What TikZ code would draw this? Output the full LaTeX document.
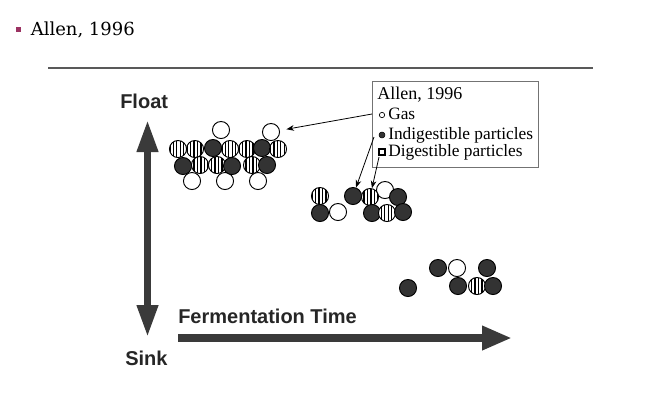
\documentclass[tikz,border=0pt]{standalone}
\usepackage{fontspec}
\setmainfont{Liberation Serif}
\newfontfamily\slabfont{DejaVu Serif}
\newfontfamily\axisfont{Liberation Sans}
\usetikzlibrary{arrows.meta,patterns.meta}
\tikzset {>=Stealth}
\definecolor{bulletred}{HTML}{9B3262}
\definecolor{arrowgray}{HTML}{3A3A3A}
\tikzset{
  gas/.style={circle,draw,line width=0.7pt,fill=white,minimum size=12.8pt,inner sep=0pt},
  indig/.style={circle,draw,line width=0.7pt,fill=black!80,minimum size=12.8pt,inner sep=0pt},
  digest/.style={circle,draw,line width=0.7pt,minimum size=12.8pt,inner sep=0pt,
    preaction={fill=white},pattern={Lines[angle=90,distance=2.6pt,line width=1pt]}},
  axislabel/.style={font=\axisfont\bfseries\fontsize{15}{18}\selectfont,text=black!85,inner sep=0pt,anchor=base west},
  keytext/.style={font=\fontsize{13}{15}\selectfont,inner sep=0pt,anchor=base west},
  pointer/.style={->,line width=0.6pt},
  bigtip/.tip={Triangle[length=24pt,width=15pt]}
}
\begin{document}
\begin{tikzpicture}[x=0.75pt,y=-0.75pt]
\useasboundingbox (0,0) rectangle (648,405);

% slide heading
\fill[bulletred] (15.5,26.5) rectangle (20.5,31.5);
\node[font=\slabfont\fontsize{13.5}{16}\selectfont,anchor=base west,inner sep=0pt] (heading) at (30.5,35) {Allen, 1996};
\draw[black!65,line width=1.5pt] (48,67.5) -- (593,67.5);

% axes
\node[axislabel] (float) at (120,108) {Float};
\node[axislabel] (sink) at (125,365) {Sink};
\node[axislabel] (fermtime) at (178,323) {Fermentation Time};
\coordinate (vtop) at (147.5,120);
\coordinate (vbot) at (147.5,337);
\coordinate (hstart) at (178,338);
\coordinate (hend) at (512,338);
\draw[arrowgray,line width=5.25pt,bigtip-bigtip] (vtop) -- (vbot);
\draw[arrowgray,line width=6pt,-{Triangle[length=22.5pt,width=17pt]}] (hstart) -- (hend);

% particles
\foreach \x/\y/\kind/\name in {221/130/gas/a1,271/132/gas/a2,
  192/181/gas/a3,225/181/gas/a4,258/181/gas/a5,
  178/149/digest/a6,195/149/digest/a7,213/148/indig/a8,230/149/digest/a9,
  247/149/digest/a10,262/148/indig/a11,278/149/digest/a12,
  183/166/indig/a13,200/165/digest/a14,217/165/digest/a15,232/166/indig/a16,
  252/165/digest/a17,267/165/indig/a18} {
  \node[\kind] (\name) at (\x,\y) {};
}
\foreach \x/\y/\kind/\name in {385/190/gas/b1,338/212/gas/b2,
  320/196/digest/b3,320/213/indig/b4,353/196/indig/b5,370/197/digest/b6,
  398/197/indig/b7,372/213/indig/b8,387/213/digest/b9,403/212/indig/b10} {
  \node[\kind] (\name) at (\x,\y) {};
}
\foreach \x/\y/\kind/\name in {438/268/indig/c1,457/268/gas/c2,487/268/indig/c3,
  408/288/indig/c4,458/286/indig/c5,477/286/digest/c6,493/286/indig/c7} {
  \node[\kind] (\name) at (\x,\y) {};
}

% key
\draw[black!55,line width=0.5pt] (372,81) rectangle (538,167);
\node[keytext,font=\fontsize{13.5}{16}\selectfont] (keytitle) at (377,99) {Allen, 1996};
\node[gas,minimum size=4pt,line width=0.5pt] (markgas) at (382,115) {};
\node[keytext] (keygas) at (388,119) {Gas};
\node[indig,minimum size=4.5pt,line width=0.4pt] (markindig) at (382,135) {};
\node[keytext] (keyindig) at (388,139) {Indigestible particles};
\node[draw,line width=1.1pt,fill=white,minimum size=4.5pt,inner sep=0pt] (markdigest) at (382,152) {};
\node[keytext] (keydigest) at (388,156) {Digestible particles};

\coordinate (fromgas) at (372,114);
\coordinate (fromindig) at (374,137);
\coordinate (fromdigest) at (379,157);
\draw[pointer,shorten >=5pt] (fromgas) -- (a2);
\draw[pointer] (fromindig) -- (b5);
\draw[pointer] (fromdigest) -- (b6);

\end{tikzpicture}
\end{document}
